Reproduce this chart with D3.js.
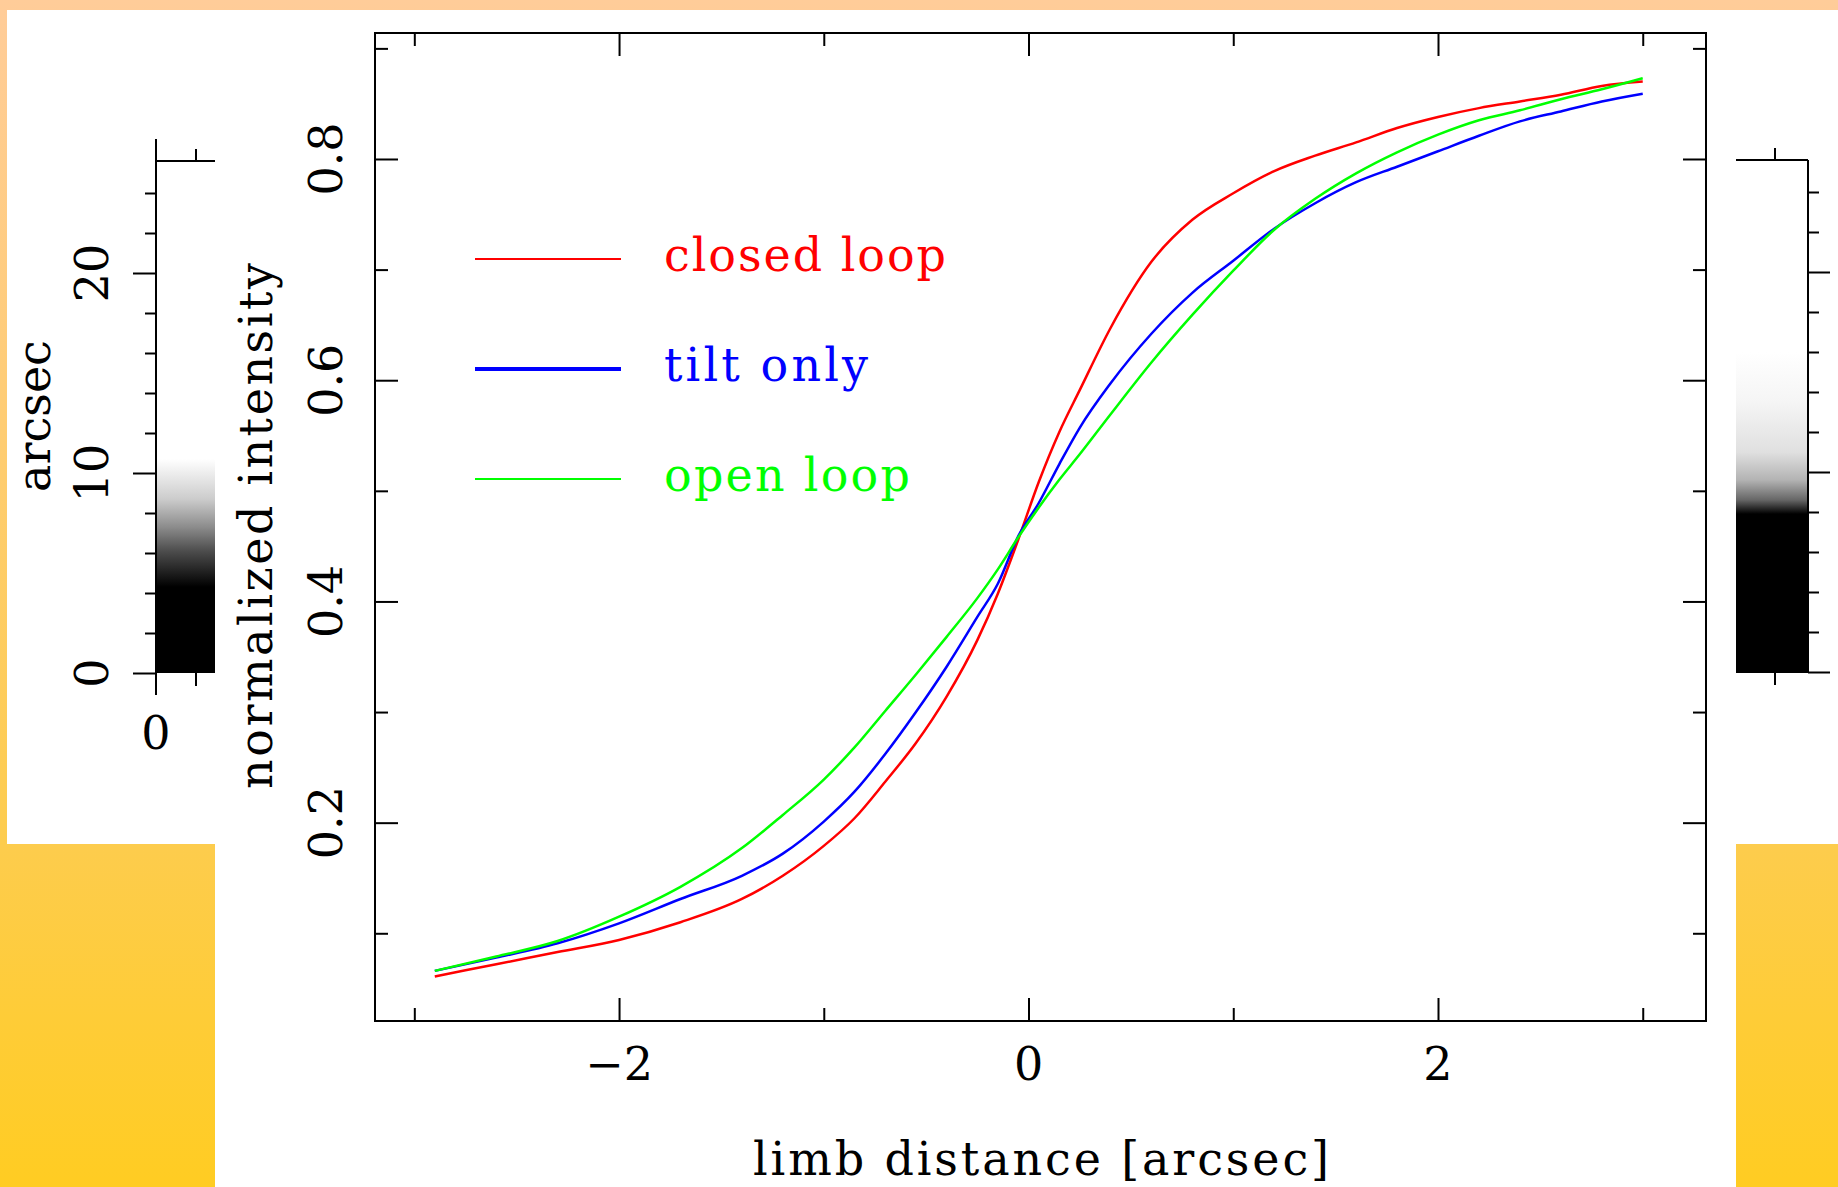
<!DOCTYPE html>
<meta charset="utf-8">
<style>
    html, body {
        margin: 0;
        padding: 0;
        overflow: hidden;
    }

    svg {
        display: block;
    }

    text {
        font-family: "DejaVu Serif", "Liberation Serif", serif;
        font-size: 46px;
    }

    .curve {
        fill: none;
        stroke-width: 2.5;
        stroke-linejoin: round;
    }
</style>

<body>
    <svg width="1838" height="1187"></svg>
    <script src="https://d3js.org/d3.v7.min.js"></script>
    <script>
        // limb distance [arcsec] and the three normalized intensity profiles
        var limbDistance = [-2.9, -2.6, -2.3, -2.0, -1.7, -1.4, -1.2, -1.0, -0.85, -0.7, -0.55, -0.4, -0.25, -0.15, -0.05,
            0.05, 0.15, 0.25, 0.4, 0.6, 0.8, 1.0, 1.2, 1.4, 1.6, 1.8, 2.0, 2.2, 2.4, 2.6, 2.8, 3.0];
        var closedLoop = [0.061, 0.072, 0.083, 0.094, 0.110, 0.131, 0.152, 0.179, 0.204, 0.237, 0.272, 0.314, 0.365, 0.407, 0.456,
            0.508, 0.553, 0.591, 0.647, 0.707, 0.745, 0.769, 0.789, 0.803, 0.815, 0.828, 0.838, 0.846, 0.852, 0.858, 0.866, 0.870];
        var tiltOnly = [0.066, 0.078, 0.091, 0.109, 0.131, 0.152, 0.172, 0.201, 0.228, 0.262, 0.300, 0.341, 0.386, 0.416, 0.459,
            0.489, 0.524, 0.557, 0.597, 0.642, 0.679, 0.708, 0.737, 0.760, 0.779, 0.793, 0.807, 0.821, 0.834, 0.843, 0.852, 0.859];
        var openLoop = [0.066, 0.079, 0.093, 0.115, 0.142, 0.177, 0.207, 0.239, 0.268, 0.301, 0.334, 0.368, 0.403, 0.429, 0.458,
            0.485, 0.510, 0.533, 0.569, 0.616, 0.659, 0.699, 0.736, 0.764, 0.787, 0.806, 0.822, 0.835, 0.844, 0.854, 0.863, 0.873];

        var seriesNames = ["closed loop", "tilt only", "open loop"];
        var seriesColors = ["#ff0000", "#0000ff", "#00ff00"];

        var xMajorTicks = [-2, 0, 2];
        var xMinorTicks = [-3, -1, 1, 3];
        var yMajorTicks = [0.2, 0.4, 0.6, 0.8];
        var yMinorTicks = [0.1, 0.3, 0.5, 0.7, 0.9];

        // colour bars (arcsec)
        var cbMajorTicks = [0, 10, 20];
        var cbMinorTicks = [2, 4, 6, 8, 12, 14, 16, 18, 22, 24];
        var leftShadeAt = [0, 4.3, 6.1, 7.3, 8.7, 10.7];
        var leftShadeGray = [0, 0, 0.3, 0.55, 0.8, 1];
        var rightShadeAt = [0, 7.9, 8.6, 9.6, 11.0, 13.5, 16];
        var rightShadeGray = [0, 0, 0.4, 0.7, 0.88, 0.96, 1];

        var svg = d3.select("svg");
        var defs = svg.append("defs");

        // page background
        var bg = defs.append("linearGradient").attr("id", "bg")
            .attr("x1", 0).attr("y1", 0).attr("x2", 0).attr("y2", 1);
        bg.append("stop").attr("offset", 0).attr("stop-color", "#ffcc99");
        bg.append("stop").attr("offset", 0.71).attr("stop-color", "#fdcc4d");
        bg.append("stop").attr("offset", 1).attr("stop-color", "#ffcc22");
        svg.append("rect").attr("width", 1838).attr("height", 1187).attr("fill", "url(#bg)");
        svg.append("rect").attr("x", 7).attr("y", 10).attr("width", 1831).attr("height", 834).attr("fill", "white");
        svg.append("rect").attr("x", 215).attr("y", 10).attr("width", 1521).attr("height", 1177).attr("fill", "white");

        // main plot
        var pLeft = 375, pRight = 1706, pTop = 33, pBottom = 1021;
        var x = d3.scaleLinear().domain([-3.192, 3.309]).range([pLeft, pRight]);
        var y = d3.scaleLinear().domain([0.0207, 0.9139]).range([pBottom, pTop]);

        function ticks(axis, vals, size, tx, ty) {
            svg.append("g")
                .attr("transform", "translate(" + tx + "," + ty + ")")
                .call(axis.tickValues(vals).tickSize(-size).tickFormat(""))
                .call(function(g) {
                    g.select(".domain").remove();
                    g.selectAll("line").attr("stroke-width", 2);
                });
        }

        ticks(d3.axisBottom(x), xMajorTicks, 23, 0, pBottom);
        ticks(d3.axisBottom(x), xMinorTicks, 13, 0, pBottom);
        ticks(d3.axisTop(x), xMajorTicks, 23, 0, pTop);
        ticks(d3.axisTop(x), xMinorTicks, 13, 0, pTop);
        ticks(d3.axisLeft(y), yMajorTicks, 23, pLeft, 0);
        ticks(d3.axisLeft(y), yMinorTicks, 13, pLeft, 0);
        ticks(d3.axisRight(y), yMajorTicks, 23, pRight, 0);
        ticks(d3.axisRight(y), yMinorTicks, 13, pRight, 0);

        svg.append("rect")
            .attr("x", pLeft).attr("y", pTop)
            .attr("width", pRight - pLeft).attr("height", pBottom - pTop)
            .attr("fill", "none").attr("stroke", "black").attr("stroke-width", 2);

        var fmt = d3.format("d");
        svg.append("g").selectAll("text")
            .data(xMajorTicks)
            .enter().append("text")
            .attr("x", function(d) { return x(d); })
            .attr("y", 1080)
            .attr("text-anchor", "middle")
            .text(function(d) { return fmt(d); });

        svg.append("g").selectAll("text")
            .data(yMajorTicks)
            .enter().append("text")
            .attr("transform", function(d) { return "translate(342," + y(d) + ") rotate(-90)"; })
            .attr("text-anchor", "middle")
            .text(function(d) { return d3.format(".1f")(d); });

        svg.append("text")
            .attr("x", 1041).attr("y", 1175)
            .attr("text-anchor", "middle")
            .attr("textLength", 576).attr("lengthAdjust", "spacing")
            .text("limb distance [arcsec]");

        svg.append("text")
            .attr("transform", "translate(272,526) rotate(-90)")
            .attr("text-anchor", "middle")
            .attr("textLength", 526).attr("lengthAdjust", "spacing")
            .text("normalized intensity");

        // curves
        var series = [closedLoop, tiltOnly, openLoop];
        var line = d3.line()
            .x(function(d, i) { return x(limbDistance[i]); })
            .y(function(d) { return y(d); })
            .curve(d3.curveMonotoneX);

        svg.append("g").selectAll("path")
            .data(series)
            .enter().append("path")
            .attr("class", "curve")
            .attr("stroke", function(d, i) { return seriesColors[i]; })
            .attr("d", line);

        // legend
        var legendY = [259, 369, 479];
        var legendLen = [282, 204, 246];
        var lg = svg.append("g").selectAll("g")
            .data(seriesNames)
            .enter().append("g");
        lg.append("line")
            .attr("x1", 475).attr("x2", 621)
            .attr("y1", function(d, i) { return legendY[i]; })
            .attr("y2", function(d, i) { return legendY[i]; })
            .attr("stroke", function(d, i) { return seriesColors[i]; })
            .attr("stroke-width", function(d, i) { return i == 1 ? 4 : 2; });
        lg.append("text")
            .attr("x", 664)
            .attr("y", function(d, i) { return legendY[i] + 12; })
            .attr("fill", function(d, i) { return seriesColors[i]; })
            .attr("textLength", function(d, i) { return legendLen[i]; })
            .attr("lengthAdjust", "spacing")
            .text(function(d) { return d; });

        // colour bars
        function shade(id, scale, at, gray) {
            var gr = defs.append("linearGradient").attr("id", id)
                .attr("gradientUnits", "userSpaceOnUse")
                .attr("x1", 0).attr("x2", 0)
                .attr("y1", scale(0)).attr("y2", scale(at[at.length - 1]));
            at.forEach(function(v, i) {
                var c = Math.round(gray[i] * 255);
                gr.append("stop")
                    .attr("offset", v / at[at.length - 1])
                    .attr("stop-color", d3.rgb(c, c, c));
            });
        }

        var cbL = d3.scaleLinear().domain([0, 10]).range([673, 473]);
        var cbR = d3.scaleLinear().domain([0, 10]).range([672, 472]);
        var cbTop = 25.6;
        shade("shadeL", cbL, leftShadeAt, leftShadeGray);
        shade("shadeR", cbR, rightShadeAt, rightShadeGray);

        svg.append("rect")
            .attr("x", 156).attr("y", cbL(cbTop))
            .attr("width", 215 - 156).attr("height", cbL(0) - cbL(cbTop))
            .attr("fill", "url(#shadeL)");
        svg.append("rect")
            .attr("x", 1736).attr("y", cbR(cbTop))
            .attr("width", 1808 - 1736).attr("height", cbR(0) - cbR(cbTop))
            .attr("fill", "url(#shadeR)");

        function cbTicks(axis, vals, size, tx) {
            svg.append("g")
                .attr("transform", "translate(" + tx + ",0)")
                .call(axis.tickValues(vals).tickSize(size).tickFormat(""))
                .call(function(g) {
                    g.select(".domain").remove();
                    g.selectAll("line").attr("stroke-width", 2);
                });
        }
        cbTicks(d3.axisLeft(cbL), cbMajorTicks, 23, 156);
        cbTicks(d3.axisLeft(cbL), cbMinorTicks, 11, 156);
        cbTicks(d3.axisRight(cbR), cbMajorTicks, 22, 1808);
        cbTicks(d3.axisRight(cbR), cbMinorTicks, 11, 1808);

        var edge = svg.append("g").attr("stroke", "black").attr("stroke-width", 2);
        // left bar frame
        edge.append("line").attr("x1", 156).attr("x2", 156).attr("y1", cbL(cbTop) - 22).attr("y2", cbL(0) + 22);
        edge.append("line").attr("x1", 156).attr("x2", 215).attr("y1", cbL(cbTop)).attr("y2", cbL(cbTop));
        edge.append("line").attr("x1", 196).attr("x2", 196).attr("y1", cbL(cbTop) - 12).attr("y2", cbL(cbTop));
        edge.append("line").attr("x1", 196).attr("x2", 196).attr("y1", cbL(0)).attr("y2", cbL(0) + 13);
        // right bar frame
        edge.append("line").attr("x1", 1808).attr("x2", 1808).attr("y1", cbR(cbTop)).attr("y2", cbR(0));
        edge.append("line").attr("x1", 1736).attr("x2", 1808).attr("y1", cbR(cbTop)).attr("y2", cbR(cbTop));
        edge.append("line").attr("x1", 1736).attr("x2", 1808).attr("y1", cbR(0)).attr("y2", cbR(0));
        edge.append("line").attr("x1", 1775).attr("x2", 1775).attr("y1", cbR(cbTop) - 12).attr("y2", cbR(cbTop));
        edge.append("line").attr("x1", 1775).attr("x2", 1775).attr("y1", cbR(0)).attr("y2", cbR(0) + 13);

        svg.append("g").selectAll("text")
            .data(cbMajorTicks)
            .enter().append("text")
            .attr("transform", function(d) { return "translate(108," + cbL(d) + ") rotate(-90)"; })
            .attr("text-anchor", "middle")
            .text(function(d) { return d; });

        svg.append("text")
            .attr("transform", "translate(50,416) rotate(-90)")
            .attr("text-anchor", "middle")
            .text("arcsec");

        svg.append("text")
            .attr("x", 156).attr("y", 749)
            .attr("text-anchor", "middle")
            .text("0");
    </script>
</body>
